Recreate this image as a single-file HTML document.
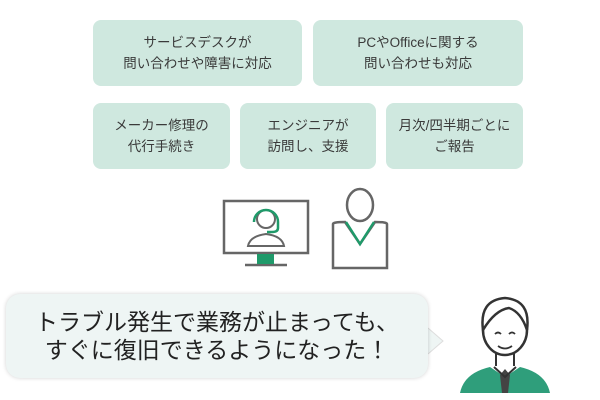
<!DOCTYPE html>
<html><head><meta charset="utf-8"><style>
body{margin:0;width:600px;height:400px;background:#fff;position:relative;overflow:hidden;font-family:"Liberation Sans","Noto Sans CJK JP",sans-serif;color:#333}
.b{position:absolute;background:#cfe8df;border-radius:8px;display:flex;align-items:center;justify-content:center;text-align:center;font-size:13.5px;line-height:21px;color:#3a3a3a}
.bub{position:absolute;left:6px;top:294px;width:422px;height:84px;background:#eef5f4;border-radius:14px;box-shadow:0 0 4px rgba(0,0,0,.18);display:flex;align-items:center;justify-content:center;text-align:center;font-size:23px;line-height:28px;color:#222}
</style></head><body>
<div class="b" style="left:93px;top:20px;width:209px;height:66px">サービスデスクが<br>問い合わせや障害に対応</div>
<div class="b" style="left:313px;top:20px;width:210px;height:66px">PCやOfficeに関する<br>問い合わせも対応</div>
<div class="b" style="left:93px;top:103px;width:137px;height:66px">メーカー修理の<br>代行手続き</div>
<div class="b" style="left:240px;top:103px;width:136px;height:66px">エンジニアが<br>訪問し、支援</div>
<div class="b" style="left:386px;top:103px;width:137px;height:66px">月次/四半期ごとに<br>ご報告</div>
<svg style="position:absolute;left:0;top:0" width="600" height="400">
<g fill="none" stroke="#666" stroke-width="2.5">
<rect x="224" y="201" width="84" height="52"/>
<line x1="245" y1="265" x2="287" y2="265"/>
</g>
<rect x="257" y="254" width="17" height="10" fill="#1f9a6a"/>
<g fill="none" stroke="#666" stroke-width="2">
<circle cx="266" cy="219" r="9"/>
<path d="M248 246 q2 -10 18 -12 q16 2 18 12 z"/>
</g>
<path d="M254 222 a12 12 0 0 1 24 0 M278 222 v6 q0 4 -6 4 h-5" fill="none" stroke="#1f9a6a" stroke-width="2.5"/>
<g fill="none" stroke="#666" stroke-width="2.5">
<ellipse cx="360" cy="205" rx="13" ry="16"/>
<path d="M333 268 v-44 q0 -2 12 -2 l15 22 l15 -22 q12 0 12 2 v44 z"/>
</g>
<path d="M346 222 l14 22 l14 -22" fill="none" stroke="#1f9a6a" stroke-width="2.5"/>
<path d="M428 328 l15 13 l-15 13" fill="#eef5f4" stroke="#ddd" stroke-width="1"/>
<path d="M460 393 q4 -20 30 -26 l15 10 l15 -10 q26 6 30 26 z" fill="#2f9e7b"/>
<path d="M500 375 l5 -6 l5 6 l-2 18 h-6 z" fill="#444"/>
<path d="M494 367 l11 10 l11 -10" fill="none" stroke="#333" stroke-width="2"/>
<ellipse cx="505" cy="330" rx="22" ry="25" fill="#fff" stroke="#333" stroke-width="2.5"/>
<path d="M483 330 q-4 -30 22 -32 q26 2 22 32 q-6 -18 -18 -22 q-14 2 -26 22z" fill="#fff" stroke="#333" stroke-width="2.5"/>
<path d="M495 334 q3 -3 6 0 M509 334 q3 -3 6 0 M498 346 q7 5 14 0" fill="none" stroke="#333" stroke-width="1.8"/>
<line x1="496" y1="352" x2="496" y2="366" stroke="#333" stroke-width="2"/>
<line x1="514" y1="352" x2="514" y2="366" stroke="#333" stroke-width="2"/>
</svg>
<div class="bub">トラブル発生で業務が止まっても、<br>すぐに復旧できるようになった！</div>
</body></html>
